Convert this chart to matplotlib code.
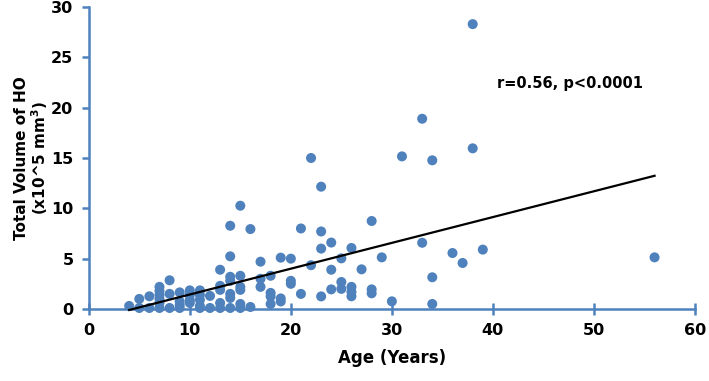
import numpy as np
import matplotlib
matplotlib.use("Agg")
import matplotlib.pyplot as plt

# age (years) and total HO volume (x10^5 mm^3)
age = [4,
       5, 5,
       6, 6,
       7, 7, 7, 7, 7, 7,
       8, 8, 8,
       9, 9, 9, 9,
       10, 10, 10, 10,
       11, 11, 11, 11, 11,
       12, 12,
       13, 13, 13, 13, 13,
       14, 14, 14, 14, 14, 14, 14,
       15, 15, 15, 15, 15, 15,
       16, 16,
       17, 17, 17,
       18, 18, 18, 18,
       19, 19, 19,
       20, 20, 20,
       21, 21,
       22, 22,
       23, 23, 23, 23,
       24, 24, 24,
       25, 25, 25,
       26, 26, 26, 26,
       27,
       28, 28, 28,
       29, 30, 31,
       33, 33,
       34, 34, 34,
       36, 37,
       38, 38,
       39, 56]
volume = [0.3,
          1.0, 0.1,
          1.26, 0.1,
          2.2, 1.8, 1.4, 1.0, 0.6, 0.1,
          2.85, 1.5, 0.1,
          1.65, 0.75, 0.4, 0.1,
          1.85, 1.4, 0.9, 0.6,
          1.85, 1.4, 0.9, 0.3, 0.1,
          1.3, 0.1,
          3.9, 2.3, 1.9, 0.6, 0.1,
          8.27, 5.23, 3.2, 2.8, 1.5, 1.1, 0.1,
          10.26, 3.3, 2.2, 1.9, 0.5, 0.1,
          7.94, 0.2,
          4.7, 3.0, 2.2,
          3.3, 1.6, 1.25, 0.5,
          5.1, 1.05, 0.75,
          5.0, 2.8, 2.5,
          8.0, 1.5,
          15.0, 4.35,
          12.15, 7.7, 6.0, 1.25,
          6.6, 3.9, 1.95,
          5.03, 2.68, 2.0,
          6.06, 2.2, 1.69, 1.26,
          3.94,
          8.74, 1.95, 1.56,
          5.13, 0.76, 15.16,
          18.9, 6.58,
          14.77, 3.15, 0.5,
          5.56, 4.57,
          28.3, 15.96,
          5.9, 5.13]

x_ticks = [0, 10, 20, 30, 40, 50, 60]
y_ticks = [0, 5, 10, 15, 20, 25, 30]
stats_text = "r=0.56, p<0.0001"

blue = "#4F81BD"

fig = plt.figure(figsize=(7.09, 3.81), dpi=100)
ax = fig.add_axes([0.1252, 0.189, 0.855, 0.7926])

ax.scatter(age, volume, s=52, color=blue, edgecolors="none", zorder=3, clip_on=False)

# linear trend line
slope, intercept = np.polyfit(age, volume, 1)
xs = np.array([min(age), max(age)])
ax.plot(xs, slope * xs + intercept, color="black", lw=1.6, zorder=4, clip_on=False)

ax.set_xlim(0, 60)
ax.set_ylim(0, 30)
ax.set_xticks(x_ticks)
ax.set_yticks(y_ticks)

for side in ["top", "right"]:
    ax.spines[side].set_visible(False)
for side in ["left", "bottom"]:
    ax.spines[side].set_color(blue)
    ax.spines[side].set_linewidth(1.8)

ax.tick_params(axis="x", direction="inout", length=8, width=1.8, color=blue, pad=6)
ax.tick_params(axis="y", direction="out", length=5, width=1.8, color=blue, pad=6)
for lbl in ax.get_xticklabels() + ax.get_yticklabels():
    lbl.set_fontsize(11.5)
    lbl.set_fontweight("bold")

ax.set_xlabel("Age (Years)", fontsize=12, fontweight="bold", labelpad=8)
ax.set_ylabel("Total Volume of HO\n(x10^5 mm$^\\mathbf{3}$)", fontsize=11,
              fontweight="bold", labelpad=1, linespacing=1.0)

ax.text(40.4, 22.4, stats_text, fontsize=10.5, fontweight="bold", ha="left", va="center")

fig.savefig("out.png", dpi=100)
